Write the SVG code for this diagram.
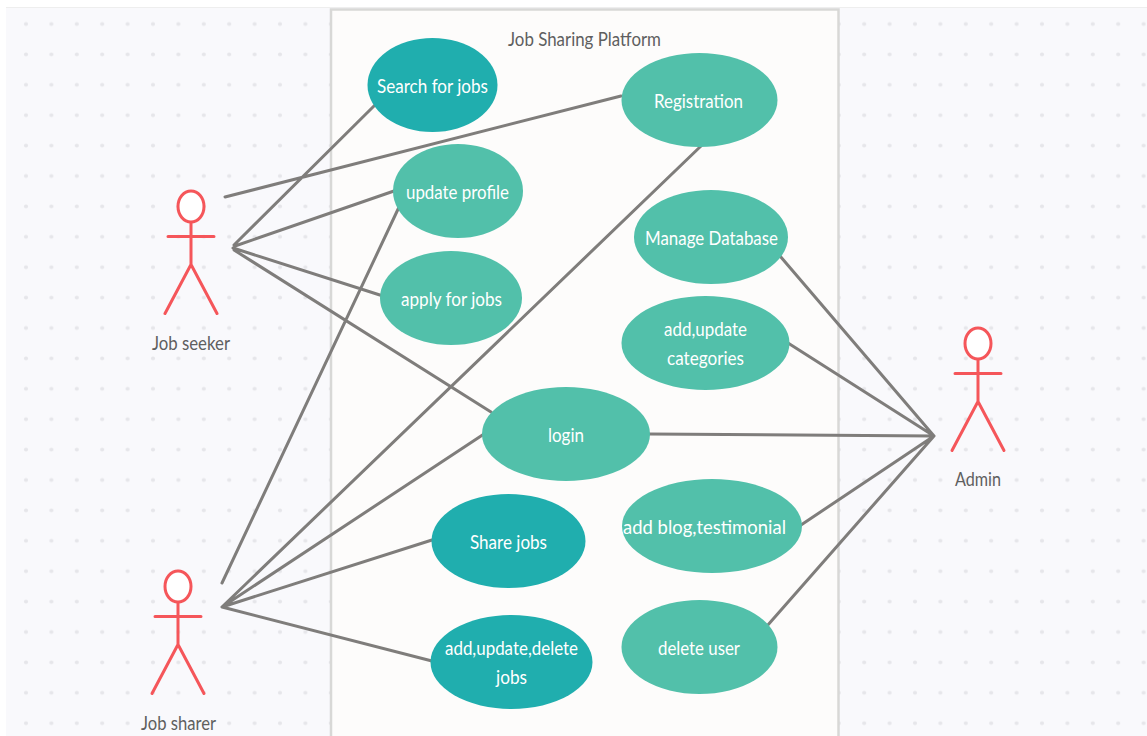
<svg xmlns="http://www.w3.org/2000/svg" width="1147" height="736" viewBox="0 0 1147 736">
<style>
.uc{fill:#52c0aa}
.ud{fill:#20aeae}
.t{font-family:"Lato","Liberation Sans",sans-serif;font-size:18.5px;text-anchor:middle;fill:#fff}
.l{font-family:"Lato","Liberation Sans",sans-serif;font-size:18.5px;text-anchor:middle;fill:#5f5f5f}
.c{fill:none;stroke:#7f7d7b;stroke-width:3;stroke-linecap:round}
.a{fill:none;stroke:#f5565a;stroke-width:3;stroke-linecap:round}
</style>
<defs>
<pattern id="dots" x="13.3" y="8.8" width="25.4" height="30.4" patternUnits="userSpaceOnUse"><circle cx="12.7" cy="15.2" r="2" fill="#e6e6ea"/></pattern>
<g id="actor"><ellipse cx="0" cy="-46" rx="13" ry="15.500" class="a" style="fill:#fff"/><path class="a" d="M0-30V12M-23-16H23M0 12L-26 61M0 12L26 61"/></g>
</defs>
<rect width="1147" height="736" fill="#fff"/>
<rect x="6" y="8" width="1141" height="728" fill="#f9f9fc"/>
<rect x="6" y="8" width="1141" height="728" fill="url(#dots)"/>
<path d="M6 7.500H1147" stroke="#eeeeee" stroke-width="1"/>
<g id="platform"><rect x="331" y="9.500" width="507.500" height="740" fill="#fdfcfb" stroke="#d8d8d6" stroke-width="2.500"/><text class="l" x="584.500" y="46" textLength="153" lengthAdjust="spacingAndGlyphs">Job Sharing Platform</text></g>
<g id="connectors">
<path class="c" d="M225 197L621 96M234 245L376 104M235 246L394 191M233 248L383 296M234 250L491 412M222 583L400 205M222 607L701 146M222 607L484 434M222 607L432 540M222 607L432 661M649 434L934 436M780 256L934 436M788 343L934 436M801 525L934 436M767 626L934 436"/>
</g>
<g id="search"><ellipse class="ud" cx="432.500" cy="85" rx="65" ry="47"/><text class="t" x="432.500" y="93" textLength="111" lengthAdjust="spacingAndGlyphs">Search for jobs</text></g>
<g id="registration"><ellipse class="uc" cx="699.500" cy="100" rx="78" ry="47"/><text class="t" x="698.500" y="108" textLength="89" lengthAdjust="spacingAndGlyphs">Registration</text></g>
<g id="update-profile"><ellipse class="uc" cx="458" cy="191" rx="65" ry="47"/><text class="t" x="457.500" y="199" textLength="103" lengthAdjust="spacingAndGlyphs">update profile</text></g>
<g id="manage-db"><ellipse class="uc" cx="711" cy="237" rx="77" ry="47"/><text class="t" x="711.500" y="245" textLength="133" lengthAdjust="spacingAndGlyphs">Manage Database</text></g>
<g id="apply"><ellipse class="uc" cx="451" cy="298" rx="71" ry="47"/><text class="t" x="451.500" y="306" textLength="101" lengthAdjust="spacingAndGlyphs">apply for jobs</text></g>
<g id="categories"><ellipse class="uc" cx="705.500" cy="343" rx="84" ry="47"/><text class="t" x="705.500" y="336" textLength="83" lengthAdjust="spacingAndGlyphs">add,update</text><text class="t" x="705.500" y="365" textLength="77" lengthAdjust="spacingAndGlyphs">categories</text></g>
<g id="login"><ellipse class="uc" cx="566" cy="434" rx="84" ry="47"/><text class="t" x="566" y="442" textLength="36" lengthAdjust="spacingAndGlyphs">login</text></g>
<g id="share"><ellipse class="ud" cx="508.500" cy="541" rx="77" ry="47"/><text class="t" x="508.500" y="549" textLength="77" lengthAdjust="spacingAndGlyphs">Share jobs</text></g>
<g id="blog"><ellipse class="uc" cx="712" cy="526" rx="90" ry="47"/><text class="t" x="704.500" y="534" textLength="163" lengthAdjust="spacingAndGlyphs">add blog,testimonial</text></g>
<g id="delete-user"><ellipse class="uc" cx="699.500" cy="647" rx="78" ry="47"/><text class="t" x="699" y="655" textLength="82" lengthAdjust="spacingAndGlyphs">delete user</text></g>
<g id="add-jobs"><ellipse class="ud" cx="511.500" cy="662" rx="81" ry="47"/><text class="t" x="511.500" y="655" textLength="133" lengthAdjust="spacingAndGlyphs">add,update,delete</text><text class="t" x="511.500" y="684" textLength="31" lengthAdjust="spacingAndGlyphs">jobs</text></g>
<g id="job-seeker"><use href="#actor" x="191" y="252.500"/><text class="l" x="191" y="350" textLength="78" lengthAdjust="spacingAndGlyphs">Job seeker</text></g>
<g id="job-sharer"><use href="#actor" x="178" y="632.500"/><text class="l" x="178.500" y="730" textLength="75" lengthAdjust="spacingAndGlyphs">Job sharer</text></g>
<g id="admin"><use href="#actor" x="978" y="389.500"/><text class="l" x="978" y="486" textLength="46" lengthAdjust="spacingAndGlyphs">Admin</text></g>
</svg>
